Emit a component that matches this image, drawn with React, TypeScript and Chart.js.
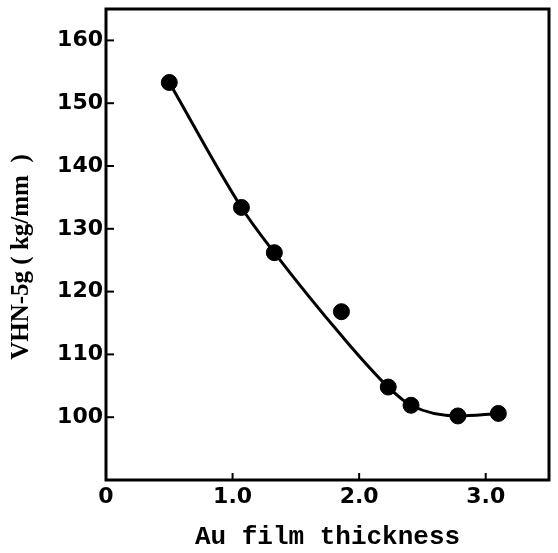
import React, { useEffect, useRef } from "react";
import { Chart, registerables } from "chart.js";

Chart.register(...registerables);

// Measured hardness vs. gold film thickness
const thickness = [0.5, 1.07, 1.33, 1.86, 2.23, 2.41, 2.78, 3.1];
const hardness = [153.3, 133.4, 126.2, 116.8, 104.8, 101.9, 100.2, 100.6];

// Hand-drawn trend curve through the data
const curveThickness = [0.5, 1.07, 1.33, 1.86, 2.23, 2.41, 2.78, 3.1];
const curveHardness = [153.3, 133.4, 126.2, 113.0, 104.8, 101.9, 100.2, 100.6];

const xTickValues = [0, 1, 2, 3];
const xTickLabels = ["0", "1.0", "2.0", "3.0"];
const yTickValues = [100, 110, 120, 130, 140, 150, 160];

const tickFont = { family: "'DejaVu Sans', sans-serif", size: 22, weight: "bold" as const };

// Draws the boxed frame and the inward tick marks
const framePlugin = {
  id: "frame",
  afterDraw(chart: any) {
    const { ctx, chartArea, scales } = chart;
    const { left, right, top, bottom } = chartArea;
    ctx.save();
    ctx.strokeStyle = "#000";
    ctx.lineWidth = 2;
    for (const v of xTickValues) {
      const x = scales.x.getPixelForValue(v);
      ctx.beginPath();
      ctx.moveTo(x, bottom);
      ctx.lineTo(x, bottom - 7);
      ctx.stroke();
    }
    for (const v of yTickValues) {
      const y = scales.y.getPixelForValue(v);
      ctx.beginPath();
      ctx.moveTo(left, y);
      ctx.lineTo(left + 8, y);
      ctx.stroke();
    }
    ctx.lineWidth = 3;
    ctx.strokeRect(left, top, right - left, bottom - top);
    ctx.restore();
  },
};

const noEdgePadding = (s: any) => {
  s.paddingTop = 0;
  s.paddingBottom = 0;
  s.paddingLeft = 0;
  s.paddingRight = 0;
};

export default function App() {
  const ref = useRef<HTMLCanvasElement | null>(null);

  useEffect(() => {
    if (!ref.current) return;
    const chart = new Chart(ref.current, {
      type: "scatter",
      data: {
        datasets: [
          {
            label: "curve",
            data: curveThickness.map((x, i) => ({ x, y: curveHardness[i] })),
            showLine: true,
            borderColor: "#000",
            borderWidth: 3,
            pointRadius: 0,
            cubicInterpolationMode: "monotone",
          },
          {
            label: "VHN",
            data: thickness.map((x, i) => ({ x, y: hardness[i] })),
            backgroundColor: "#000",
            borderColor: "#000",
            pointRadius: 8,
            pointHoverRadius: 8,
          },
        ],
      },
      options: {
        responsive: false,
        animation: false,
        layout: { padding: { left: 0, right: 3, top: 7, bottom: 0 } },
        plugins: { legend: { display: false }, tooltip: { enabled: false } },
        scales: {
          x: {
            type: "linear",
            min: 0,
            max: 3.5,
            grid: { display: false, drawTicks: false },
            border: { display: false },
            afterBuildTicks: (s: any) => {
              s.ticks = xTickValues.map((v) => ({ value: v }));
            },
            afterFit: (s: any) => {
              s.height = 73;
              noEdgePadding(s);
            },
            ticks: {
              color: "#000",
              font: tickFont,
              padding: 4,
              maxRotation: 0,
              callback: (_v: any, i: number) => xTickLabels[i],
            },
            title: {
              display: true,
              text: "Au film thickness",
              color: "#000",
              font: { family: "'Liberation Mono', monospace", size: 26, weight: "bold" },
              padding: { top: 0, bottom: 0 },
            },
          },
          y: {
            type: "linear",
            min: 90,
            max: 165,
            grid: { display: false, drawTicks: false },
            border: { display: false },
            afterBuildTicks: (s: any) => {
              s.ticks = yTickValues.map((v) => ({ value: v }));
            },
            afterFit: (s: any) => {
              s.width = 106;
              noEdgePadding(s);
            },
            ticks: {
              color: "#000",
              font: tickFont,
              padding: 3,
              callback: (v: any) => String(v),
            },
            title: {
              display: true,
              text: "VHN-5g ( kg/mm  )    ",
              color: "#000",
              font: { family: "'Liberation Serif', serif", size: 25, weight: "bold" },
              padding: { top: 7, bottom: 0 },
            },
          },
        },
      },
      plugins: [framePlugin],
    });
    return () => chart.destroy();
  }, []);

  return (
    <div style={{ position: "absolute", left: 0, top: 0, width: 558, height: 553, background: "#fff" }}>
      <canvas ref={ref} width={558} height={553} style={{ display: "block" }} />
    </div>
  );
}
